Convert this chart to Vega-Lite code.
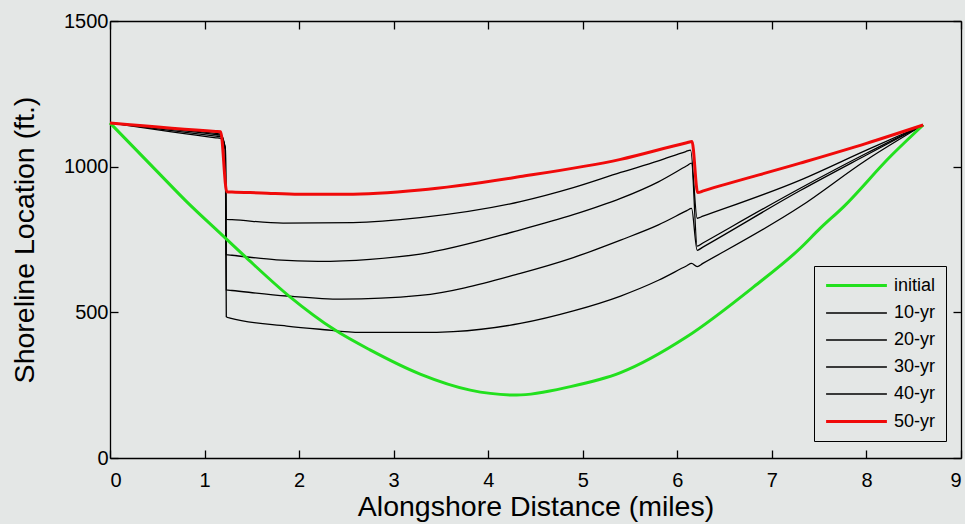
{
  "$schema": "https://vega.github.io/schema/vega-lite/v6.json",
  "width": 851,
  "height": 437,
  "autosize": {"type": "none"},
  "padding": {"left": 110, "top": 21, "right": 4, "bottom": 66},
  "background": "#e4e7e6",
  "config": {
    "view": {"stroke": null},
    "font": "Liberation Sans",
    "axis": {
      "domainColor": "#000000",
      "domainWidth": 1.3,
      "tickColor": "#000000",
      "tickWidth": 1.3,
      "tickSize": -8,
      "grid": false,
      "labelColor": "#000000",
      "labelFont": "Liberation Sans",
      "labelFontSize": 20,
      "titleFont": "Liberation Sans",
      "titleFontSize": 28.5,
      "titleFontWeight": "normal",
      "titleColor": "#000000"
    },
    "legend": {
      "title": null,
      "orient": "none",
      "legendX": 704,
      "legendY": 245,
      "padding": 10,
      "strokeColor": "#000000",
      "fillColor": "#e4e7e6",
      "symbolType": "M-3.8,0H3.8",
      "symbolSize": 256,
      "symbolOffset": 23,
      "labelOffset": 28,
      "labelFontSize": 18,
      "labelFont": "Liberation Sans",
      "labelColor": "#000000",
      "rowPadding": 9
    }
  },
  "data": {
    "values": [
      {"s": "10-yr", "x": 0, "y": 1150},
      {"s": "10-yr", "x": 1.12, "y": 1099},
      {"s": "10-yr", "x": 1.17, "y": 1097},
      {"s": "10-yr", "x": 1.22, "y": 1060},
      {"s": "10-yr", "x": 1.23, "y": 485},
      {"s": "10-yr", "x": 1.27, "y": 480},
      {"s": "10-yr", "x": 1.87, "y": 453},
      {"s": "10-yr", "x": 2.22, "y": 442},
      {"s": "10-yr", "x": 2.65, "y": 431},
      {"s": "10-yr", "x": 3.28, "y": 431},
      {"s": "10-yr", "x": 3.63, "y": 434},
      {"s": "10-yr", "x": 4.34, "y": 462},
      {"s": "10-yr", "x": 4.9, "y": 505},
      {"s": "10-yr", "x": 5.4, "y": 556},
      {"s": "10-yr", "x": 5.8, "y": 610},
      {"s": "10-yr", "x": 6.1, "y": 660},
      {"s": "10-yr", "x": 6.15, "y": 668},
      {"s": "10-yr", "x": 6.21, "y": 657},
      {"s": "10-yr", "x": 6.27, "y": 668},
      {"s": "10-yr", "x": 7.3, "y": 863},
      {"s": "10-yr", "x": 8.0, "y": 1023},
      {"s": "10-yr", "x": 8.6, "y": 1143},
      {"s": "20-yr", "x": 0, "y": 1150},
      {"s": "20-yr", "x": 1.12, "y": 1105},
      {"s": "20-yr", "x": 1.17, "y": 1103},
      {"s": "20-yr", "x": 1.22, "y": 1060},
      {"s": "20-yr", "x": 1.23, "y": 577},
      {"s": "20-yr", "x": 1.29, "y": 575},
      {"s": "20-yr", "x": 1.87, "y": 556},
      {"s": "20-yr", "x": 2.45, "y": 545},
      {"s": "20-yr", "x": 3.28, "y": 558},
      {"s": "20-yr", "x": 4.34, "y": 634},
      {"s": "20-yr", "x": 4.9, "y": 688},
      {"s": "20-yr", "x": 5.4, "y": 748},
      {"s": "20-yr", "x": 5.8, "y": 800},
      {"s": "20-yr", "x": 6.1, "y": 849},
      {"s": "20-yr", "x": 6.15, "y": 857},
      {"s": "20-yr", "x": 6.21, "y": 713},
      {"s": "20-yr", "x": 6.27, "y": 724},
      {"s": "20-yr", "x": 7.3, "y": 918},
      {"s": "20-yr", "x": 8.0, "y": 1040},
      {"s": "20-yr", "x": 8.6, "y": 1143},
      {"s": "30-yr", "x": 0, "y": 1150},
      {"s": "30-yr", "x": 1.12, "y": 1110},
      {"s": "30-yr", "x": 1.17, "y": 1108},
      {"s": "30-yr", "x": 1.22, "y": 1060},
      {"s": "30-yr", "x": 1.23, "y": 698},
      {"s": "30-yr", "x": 1.29, "y": 696},
      {"s": "30-yr", "x": 1.76, "y": 680},
      {"s": "30-yr", "x": 2.2, "y": 675},
      {"s": "30-yr", "x": 2.75, "y": 682},
      {"s": "30-yr", "x": 3.28, "y": 700},
      {"s": "30-yr", "x": 4.34, "y": 783},
      {"s": "30-yr", "x": 4.9, "y": 835},
      {"s": "30-yr", "x": 5.4, "y": 891},
      {"s": "30-yr", "x": 5.8, "y": 948},
      {"s": "30-yr", "x": 6.1, "y": 1003},
      {"s": "30-yr", "x": 6.15, "y": 1012},
      {"s": "30-yr", "x": 6.21, "y": 727},
      {"s": "30-yr", "x": 6.27, "y": 738},
      {"s": "30-yr", "x": 7.3, "y": 926},
      {"s": "30-yr", "x": 8.0, "y": 1046},
      {"s": "30-yr", "x": 8.6, "y": 1143},
      {"s": "40-yr", "x": 0, "y": 1150},
      {"s": "40-yr", "x": 1.12, "y": 1114},
      {"s": "40-yr", "x": 1.17, "y": 1112},
      {"s": "40-yr", "x": 1.22, "y": 1060},
      {"s": "40-yr", "x": 1.23, "y": 819},
      {"s": "40-yr", "x": 1.29, "y": 818},
      {"s": "40-yr", "x": 1.83, "y": 806},
      {"s": "40-yr", "x": 2.57, "y": 808},
      {"s": "40-yr", "x": 3.28, "y": 825},
      {"s": "40-yr", "x": 4.34, "y": 880},
      {"s": "40-yr", "x": 4.9, "y": 928},
      {"s": "40-yr", "x": 5.4, "y": 980},
      {"s": "40-yr", "x": 5.8, "y": 1020},
      {"s": "40-yr", "x": 6.09, "y": 1052},
      {"s": "40-yr", "x": 6.14, "y": 1057},
      {"s": "40-yr", "x": 6.21, "y": 823},
      {"s": "40-yr", "x": 6.27, "y": 830},
      {"s": "40-yr", "x": 7.3, "y": 954},
      {"s": "40-yr", "x": 8.0, "y": 1057},
      {"s": "40-yr", "x": 8.6, "y": 1143},
      {"s": "initial", "x": 0, "y": 1150},
      {"s": "initial", "x": 0.5, "y": 983},
      {"s": "initial", "x": 0.81, "y": 880},
      {"s": "initial", "x": 1.17, "y": 770},
      {"s": "initial", "x": 1.43, "y": 691},
      {"s": "initial", "x": 1.9, "y": 554},
      {"s": "initial", "x": 2.38, "y": 439},
      {"s": "initial", "x": 2.75, "y": 371},
      {"s": "initial", "x": 3.28, "y": 288},
      {"s": "initial", "x": 3.81, "y": 233},
      {"s": "initial", "x": 4.3, "y": 216},
      {"s": "initial", "x": 4.87, "y": 245},
      {"s": "initial", "x": 5.4, "y": 293},
      {"s": "initial", "x": 6.1, "y": 416},
      {"s": "initial", "x": 6.81, "y": 588},
      {"s": "initial", "x": 7.3, "y": 720},
      {"s": "initial", "x": 7.51, "y": 788},
      {"s": "initial", "x": 7.76, "y": 863},
      {"s": "initial", "x": 8.25, "y": 1034},
      {"s": "initial", "x": 8.6, "y": 1143},
      {"s": "50-yr", "x": 0, "y": 1150},
      {"s": "50-yr", "x": 1.12, "y": 1121},
      {"s": "50-yr", "x": 1.17, "y": 1120},
      {"s": "50-yr", "x": 1.235, "y": 914},
      {"s": "50-yr", "x": 1.29, "y": 913},
      {"s": "50-yr", "x": 1.6, "y": 910},
      {"s": "50-yr", "x": 2.0, "y": 905},
      {"s": "50-yr", "x": 2.5, "y": 905},
      {"s": "50-yr", "x": 3.28, "y": 920},
      {"s": "50-yr", "x": 4.34, "y": 966},
      {"s": "50-yr", "x": 5.4, "y": 1025},
      {"s": "50-yr", "x": 6.1, "y": 1082},
      {"s": "50-yr", "x": 6.155, "y": 1086},
      {"s": "50-yr", "x": 6.215, "y": 911},
      {"s": "50-yr", "x": 6.275, "y": 917},
      {"s": "50-yr", "x": 7.3, "y": 1012},
      {"s": "50-yr", "x": 8.0, "y": 1080},
      {"s": "50-yr", "x": 8.6, "y": 1143}
    ]
  },
  "layer": [
    {
      "mark": {"type": "line", "interpolate": "monotone"},
      "encoding": {
        "x": {
          "field": "x", "type": "quantitative",
          "scale": {"domain": [0, 9], "nice": false, "zero": false},
          "axis": {"orient": "bottom", "values": [0,1,2,3,4,5,6,7,8,9], "labelPadding": 20, "title": "Alongshore Distance (miles)", "titlePadding": 2, "format": "d"}
        },
        "y": {
          "field": "y", "type": "quantitative",
          "scale": {"domain": [0, 1500], "nice": false},
          "axis": {"orient": "left", "values": [0, 500, 1000, 1500], "labelPadding": 10, "title": "Shoreline Location (ft.)", "titlePadding": 24, "format": "d"}
        },
        "color": {
          "field": "s", "type": "nominal",
          "scale": {"domain": ["initial", "10-yr", "20-yr", "30-yr", "40-yr", "50-yr"], "range": ["#22e01e", "#000000", "#000000", "#000000", "#000000", "#f00a0a"]}
        },
        "strokeWidth": {
          "field": "s", "type": "nominal",
          "scale": {"type": "ordinal", "domain": ["initial", "10-yr", "20-yr", "30-yr", "40-yr", "50-yr"], "range": [3, 1.3, 1.3, 1.3, 1.3, 3]}
        }
      }
    },
    {
      "mark": {"type": "line", "opacity": 0},
      "encoding": {
        "x": {"field": "x", "type": "quantitative", "axis": {"orient": "top", "values": [0,1,2,3,4,5,6,7,8,9], "labels": false, "title": null}},
        "y": {"field": "y", "type": "quantitative", "axis": {"orient": "right", "values": [0, 500, 1000, 1500], "labels": false, "title": null}}
      }
    }
  ],
  "resolve": {"axis": {"x": "independent", "y": "independent"}}
}
